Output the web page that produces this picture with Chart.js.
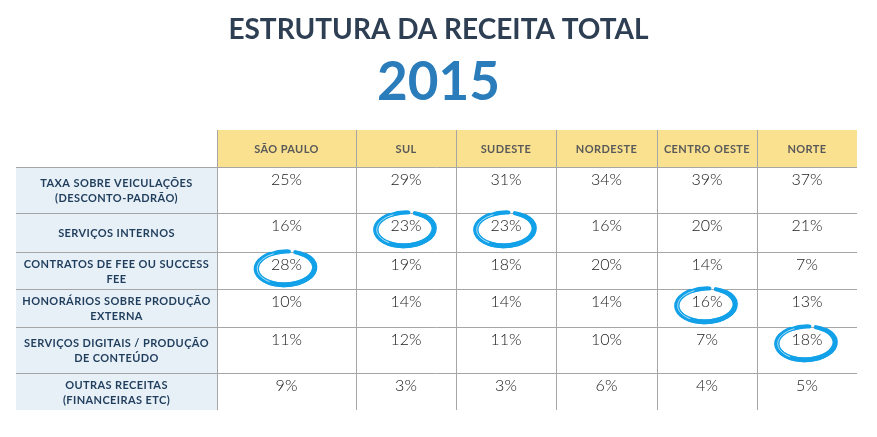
<!DOCTYPE html>
<html>
<head>
<meta charset="utf-8">
<script src="https://cdn.jsdelivr.net/npm/chart.js@4.4.1/dist/chart.umd.min.js"></script>
<style>
  html, body { margin: 0; padding: 0; background: #fff; }
  #wrap { width: 877px; height: 437px; }
</style>
</head>
<body>
<div id="wrap"><canvas id="myChart"></canvas></div>
<script>
var regioes = ["SÃO PAULO", "SUL", "SUDESTE", "NORDESTE", "CENTRO OESTE", "NORTE"];
var tiposReceita = [
  ["TAXA SOBRE VEICULAÇÕES", "(DESCONTO-PADRÃO)"],
  ["SERVIÇOS INTERNOS"],
  ["CONTRATOS DE FEE OU SUCCESS", "FEE"],
  ["HONORÁRIOS SOBRE PRODUÇÃO", "EXTERNA"],
  ["SERVIÇOS DIGITAIS / PRODUÇÃO", "DE CONTEÚDO"],
  ["OUTRAS RECEITAS", "(FINANCEIRAS ETC)"]
];
var taxaVeiculacoes    = [25, 29, 31, 34, 39, 37];
var servicosInternos   = [16, 23, 23, 16, 20, 21];
var contratosFee       = [28, 19, 18, 20, 14, 7];
var honorariosProducao = [10, 14, 14, 14, 16, 13];
var servicosDigitais   = [11, 12, 11, 10, 7, 18];
var outrasReceitas     = [9, 3, 3, 6, 4, 5];
// [row, column] of circled cells
var destaques = [[1, 1], [1, 2], [2, 0], [3, 4], [4, 5]];

// table layout (in scale units)
var colEdges = [16, 217, 356, 456, 556, 657, 757, 857];
var rowEdges = [130, 167, 213, 252, 289, 327, 373, 410];

var gridColor = "#a6a6a6";
var headerFill = "#fae18f";
var labelFill = "#e8f0f7";

function buildCells() {
  var series = [taxaVeiculacoes, servicosInternos, contratosFee, honorariosProducao, servicosDigitais, outrasReceitas];
  var pts = [];
  for (var r = 0; r < series.length; r++) {
    for (var c = 0; c < series[r].length; c++) {
      pts.push({
        x: (colEdges[c + 1] + colEdges[c + 2]) / 2,
        y: rowEdges[r + 1],
        v: series[r][c] + "%",
        r: r,
        c: c
      });
    }
  }
  return pts;
}

// hand-drawn looking blue ring
function brush(ctx, cx, cy) {
  var passes = [
    { rx: 29, ry: 16.5, s: -1.2, e: 4.85, w: 4.2, col: "#12a1e8", a: 1 },
    { rx: 30.6, ry: 17.8, s: -0.8, e: 4.2, w: 2.6, col: "#12a1e8", a: 1 },
    { rx: 27.4, ry: 15.2, s: -1.0, e: 4.55, w: 1.8, col: "#12a1e8", a: 0.85 },
    { rx: 30, ry: 17.6, s: 0.2, e: 2.6, w: 3.2, col: "#12a1e8", a: 1 },
    { rx: 28.4, ry: 16.1, s: 2.2, e: 4.3, w: 0.9, col: "#d4ecf8", a: 0.9 }
  ];
  ctx.save();
  ctx.lineCap = "round";
  passes.forEach(function (p) {
    ctx.globalAlpha = p.a;
    ctx.strokeStyle = p.col;
    ctx.lineWidth = p.w;
    ctx.beginPath();
    ctx.ellipse(cx, cy, p.rx, p.ry, -0.04, p.s, p.e);
    ctx.stroke();
  });
  ctx.restore();
}

var tablePlugin = {
  id: "tablePlugin",
  beforeDatasetsDraw: function (chart) {
    var ctx = chart.ctx;
    var xs = chart.scales.x, ys = chart.scales.y;
    var px = function (v) { return xs.getPixelForValue(v); };
    var py = function (v) { return ys.getPixelForValue(v); };
    ctx.save();

    // header and label column fills
    ctx.fillStyle = headerFill;
    ctx.fillRect(px(colEdges[1]), py(rowEdges[0]), px(colEdges[7]) - px(colEdges[1]), py(rowEdges[1]) - py(rowEdges[0]));
    ctx.fillStyle = labelFill;
    ctx.fillRect(px(colEdges[0]), py(rowEdges[1]), px(colEdges[1]) - px(colEdges[0]), py(rowEdges[7]) - py(rowEdges[1]));

    // grid
    ctx.strokeStyle = gridColor;
    ctx.lineWidth = 1;
    ctx.beginPath();
    for (var i = 1; i < rowEdges.length - 1; i++) {
      var yy = Math.round(py(rowEdges[i])) + 0.5;
      ctx.moveTo(px(colEdges[0]), yy);
      ctx.lineTo(px(colEdges[7]), yy);
    }
    for (var j = 1; j < colEdges.length - 1; j++) {
      var xx = Math.round(px(colEdges[j])) + 0.5;
      ctx.moveTo(xx, py(rowEdges[0]));
      ctx.lineTo(xx, py(rowEdges[7]));
    }
    ctx.stroke();

    // header labels
    ctx.textAlign = "center";
    ctx.textBaseline = "middle";
    ctx.letterSpacing = "0.4px";
    ctx.fillStyle = "#595959";
    ctx.font = "bold 11px Lato";
    regioes.forEach(function (name, c) {
      ctx.fillText(name, px((colEdges[c + 1] + colEdges[c + 2]) / 2), py((rowEdges[0] + rowEdges[1]) / 2) + 1);
    });

    // row labels
    ctx.fillStyle = "#1f3d5c";
    ctx.font = "bold 11px Lato";
    tiposReceita.forEach(function (lines, r) {
      var cy = py((rowEdges[r + 1] + rowEdges[r + 2]) / 2) + 1;
      var start = cy - (lines.length - 1) * 7.5;
      lines.forEach(function (t, k) {
        ctx.fillText(t, px((colEdges[0] + colEdges[1]) / 2), start + k * 15);
      });
    });
    ctx.restore();
  },
  afterDatasetsDraw: function (chart) {
    var ctx = chart.ctx;
    var meta = chart.getDatasetMeta(0);
    var pts = chart.data.datasets[0].data;
    ctx.save();
    ctx.textAlign = "center";
    ctx.textBaseline = "middle";
    ctx.fillStyle = "#1a1a1a";
    ctx.font = "300 16px Lato";
    meta.data.forEach(function (el, i) {
      ctx.fillText(pts[i].v, el.x, el.y + 13);
    });
    destaques.forEach(function (d) {
      var idx = d[0] * regioes.length + d[1];
      var el = meta.data[idx];
      brush(ctx, el.x - 1, el.y + 16);
    });
    ctx.restore();
  }
};

function renderChart(cells) {
  var ctx = document.getElementById("myChart").getContext("2d");
  new Chart(ctx, {
    type: "scatter",
    data: {
      datasets: [{
        label: "Receita",
        data: cells,
        pointRadius: 0,
        pointHoverRadius: 0
      }]
    },
    options: {
      responsive: true,
      maintainAspectRatio: false,
      animation: false,
      events: [],
      layout: { padding: 0 },
      scales: {
        x: { type: "linear", min: 0, max: 877, display: false },
        y: { type: "linear", min: 120, max: 437, reverse: true, display: false }
      },
      plugins: {
        legend: { display: false },
        tooltip: { enabled: false },
        title: {
          display: true,
          text: "ESTRUTURA DA RECEITA TOTAL",
          color: "#2e3f53",
          font: { family: "Lato", size: 28, weight: "bold", lineHeight: 1.2 },
          padding: { top: 13, bottom: 0 }
        },
        subtitle: {
          display: true,
          text: "2015",
          color: "#2a7cbb",
          font: { family: "Lato", size: 53, weight: "bold", lineHeight: 1 },
          padding: { top: 10, bottom: 10.4 }
        }
      }
    },
    plugins: [tablePlugin]
  });
}

window.onload = function () {
  renderChart(buildCells());
};
</script>
</body>
</html>
